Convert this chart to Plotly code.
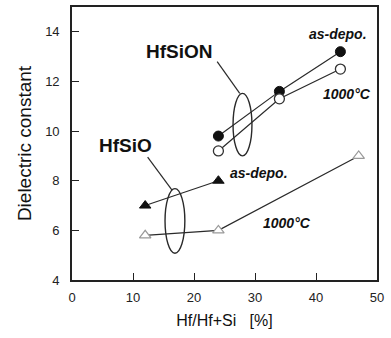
import plotly.graph_objects as go

# Hf content, Hf/(Hf+Si) [%]
hfsion_x = [24, 34, 44]
hfsion_asdepo = [9.8, 11.6, 13.2]
hfsion_1000c = [9.2, 11.3, 12.5]

hfsio_asdepo_x = [12, 24]
hfsio_asdepo = [7.0, 8.0]
hfsio_1000c_x = [12, 24, 47]
hfsio_1000c = [5.8, 6.0, 9.0]

x_ticks = [0, 10, 20, 30, 40, 50]
y_ticks = [4, 6, 8, 10, 12, 14]

LINE = "#2a2a2a"
FONT = "Liberation Sans, Arial, sans-serif"

fig = go.Figure()

fig.add_trace(go.Scatter(
    x=hfsion_x, y=hfsion_asdepo, mode="lines+markers",
    line=dict(color=LINE, width=1.2),
    marker=dict(symbol="circle", size=10, color="#111111",
                line=dict(color="#111111", width=1)),
))
fig.add_trace(go.Scatter(
    x=hfsion_x, y=hfsion_1000c, mode="lines+markers",
    line=dict(color=LINE, width=1.2),
    marker=dict(symbol="circle", size=10, color="white",
                line=dict(color="#333333", width=1.3)),
))
fig.add_trace(go.Scatter(
    x=hfsio_asdepo_x, y=hfsio_asdepo, mode="lines+markers",
    line=dict(color=LINE, width=1.2),
    marker=dict(symbol="triangle-up", size=10, color="#111111",
                line=dict(color="#111111", width=1)),
))
fig.add_trace(go.Scatter(
    x=hfsio_1000c_x, y=hfsio_1000c, mode="lines+markers",
    line=dict(color=LINE, width=1.2),
    marker=dict(symbol="triangle-up", size=10, color="white",
                line=dict(color="#999999", width=1.2)),
))

# Ellipses grouping each material's pair of curves
fig.add_shape(type="circle", xref="x", yref="y",
              x0=26.4, x1=29.5, y0=9.0, y1=11.52,
              line=dict(color=LINE, width=1.4))
fig.add_shape(type="circle", xref="x", yref="y",
              x0=15.25, x1=18.5, y0=5.08, y1=7.68,
              line=dict(color=LINE, width=1.4))

# Leader lines from the material labels to the ellipses
fig.add_shape(type="line", xref="x", yref="y",
              x0=23.8, y0=12.8, x1=27.5, y1=11.52,
              line=dict(color=LINE, width=1.2))
fig.add_shape(type="line", xref="x", yref="y",
              x0=12.4, y0=8.95, x1=16.4, y1=7.62,
              line=dict(color=LINE, width=1.2))

labels = [
    (17.7, 13.2, "HfSiON", 19, "normal"),
    (8.8, 9.4, "HfSiO", 19, "normal"),
    (43.6, 13.9, "as-depo.", 14, "italic"),
    (45.1, 11.5, "1000°C", 14, "italic"),
    (30.6, 8.3, "as-depo.", 14, "italic"),
    (35.2, 6.3, "1000°C", 14, "italic"),
]
for x, y, t, s, st in labels:
    fig.add_annotation(x=x, y=y, xref="x", yref="y", text=t, showarrow=False,
                       font=dict(family=FONT, size=s, color="#111111",
                                 weight="bold", style=st),
                       xanchor="center", yanchor="middle")

axis_common = dict(
    showline=True, linecolor="#222222", linewidth=1.6, mirror=True,
    ticks="inside", ticklen=7, tickwidth=1.4, tickcolor="#222222",
    showgrid=False, zeroline=False,
    tickfont=dict(family=FONT, size=13, color="#222222"),
)

fig.update_xaxes(range=[0, 50], tickvals=x_ticks, ticklabelstandoff=5,
                 title=dict(text="Hf/Hf+Si   [%]", standoff=10,
                            font=dict(family=FONT, size=16, color="#111111")),
                 **axis_common)
fig.update_yaxes(range=[4, 15], tickvals=y_ticks, ticklabelstandoff=8,
                 title=dict(text="Dielectric constant", standoff=8,
                            font=dict(family=FONT, size=19, color="#111111")),
                 **axis_common)

fig.update_layout(
    width=391, height=338,
    margin=dict(l=72, r=14, t=5, b=58),
    paper_bgcolor="white", plot_bgcolor="white",
    showlegend=False,
)

fig.write_html("out.html")
